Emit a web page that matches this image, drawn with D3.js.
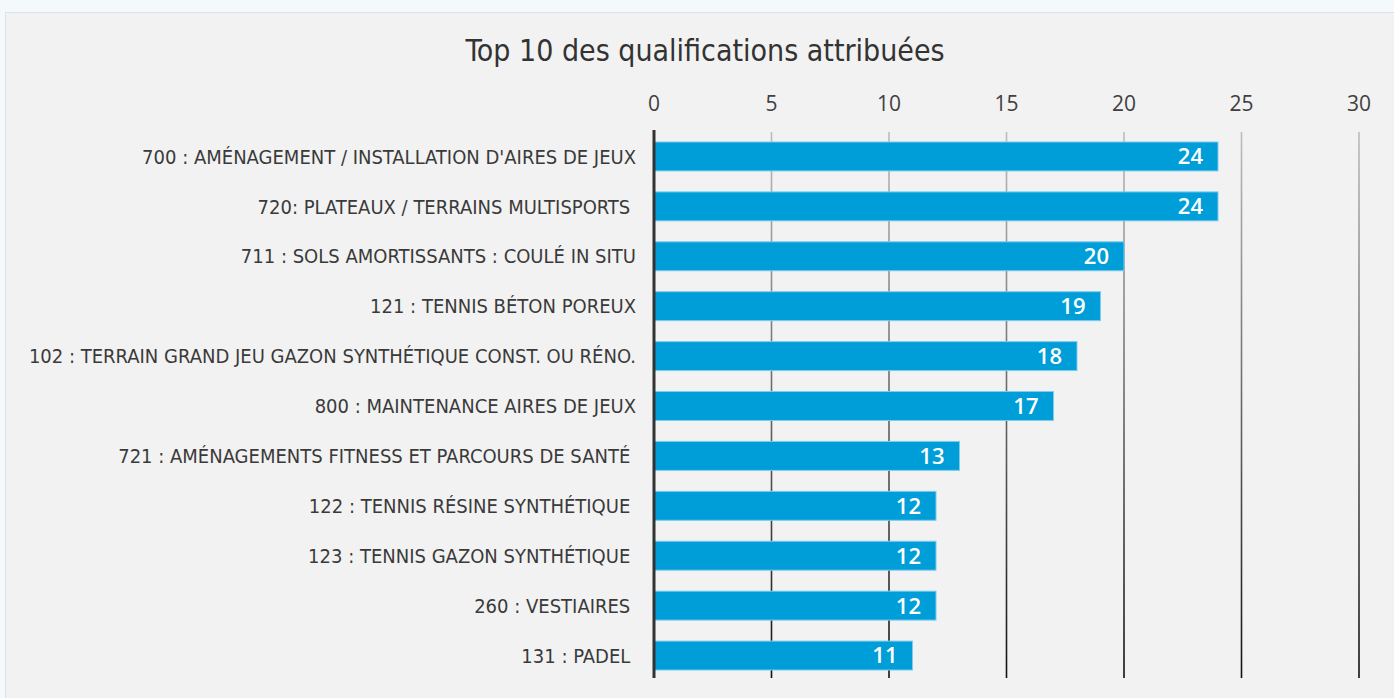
<!DOCTYPE html>
<html>
<head>
<meta charset="utf-8">
<script src="https://cdn.jsdelivr.net/npm/d3@7"></script>
<style>
  html, body { margin: 0; padding: 0; background: #f4f9fc; }
  svg { display: block; }
</style>
</head>
<body>
<script>
const categories = [
  "700 : AMÉNAGEMENT / INSTALLATION D'AIRES DE JEUX",
  "720: PLATEAUX / TERRAINS MULTISPORTS ",
  "711 : SOLS AMORTISSANTS : COULÉ IN SITU",
  "121 : TENNIS BÉTON POREUX",
  "102 : TERRAIN GRAND JEU GAZON SYNTHÉTIQUE CONST. OU RÉNO.",
  "800 : MAINTENANCE AIRES DE JEUX",
  "721 : AMÉNAGEMENTS FITNESS ET PARCOURS DE SANTÉ ",
  "122 : TENNIS RÉSINE SYNTHÉTIQUE ",
  "123 : TENNIS GAZON SYNTHÉTIQUE ",
  "260 : VESTIAIRES ",
  "131 : PADEL "
];
const counts = [24, 24, 20, 19, 18, 17, 13, 12, 12, 12, 11];
const tickValues = [0, 5, 10, 15, 20, 25, 30];
const title = "Top 10 des qualifications attribuées";

const width = 1394, height = 698;
const narrow = "'Liberation Sans Narrow', 'DejaVu Sans Condensed', 'Roboto Condensed', sans-serif";

const svg = d3.select("body").append("svg")
    .attr("width", width)
    .attr("height", height);

const defs = svg.append("defs");
const grad = defs.append("linearGradient")
    .attr("id", "gridGrad")
    .attr("gradientUnits", "userSpaceOnUse")
    .attr("x1", 0).attr("y1", 132)
    .attr("x2", 0).attr("y2", 678);
grad.append("stop").attr("offset", "0%").attr("stop-color", "#bdbdbd");
grad.append("stop").attr("offset", "100%").attr("stop-color", "#111");

// panel
svg.append("rect")
    .attr("x", 5.5).attr("y", 12.5)
    .attr("width", width - 5).attr("height", height - 12)
    .attr("fill", "#f2f2f2")
    .attr("stroke", "#dce2e5");

const x = d3.scaleLinear()
    .domain([0, 30])
    .range([654, 1359]);

const y = d3.scaleBand()
    .domain(categories)
    .range([132, 680])
    .paddingInner(0.42)
    .paddingOuter(0.2);

svg.append("text")
    .attr("x", 705)
    .attr("y", 61)
    .attr("text-anchor", "middle")
    .attr("font-family", narrow)
    .attr("font-size", 30)
    .attr("fill", "#333")
    .text(title);

// grid lines
svg.append("g")
  .selectAll("line")
  .data(tickValues.filter(d => d > 0))
  .join("line")
    .attr("x1", d => x(d)).attr("x2", d => x(d))
    .attr("y1", 132).attr("y2", 678)
    .attr("stroke", "url(#gridGrad)")
    .attr("stroke-width", 1.6);

// tick labels
svg.append("g")
  .selectAll("text")
  .data(tickValues)
  .join("text")
    .attr("x", d => x(d))
    .attr("y", 111)
    .attr("text-anchor", "middle")
    .attr("font-family", "'Open Sans', sans-serif")
    .attr("font-size", 21)
    .attr("fill", "#404040")
    .text(d => d);

// bars
const rows = svg.append("g")
  .selectAll("g")
  .data(categories.map((c, i) => ({c, v: counts[i]})))
  .join("g");

rows.append("rect")
    .attr("x", x(0))
    .attr("y", d => y(d.c))
    .attr("width", d => x(d.v) - x(0))
    .attr("height", y.bandwidth())
    .attr("fill", "#009ed8")
    .attr("stroke", "#7fcbee")
    .attr("stroke-width", 1);

rows.append("text")
    .attr("x", d => x(d.v) - 15)
    .attr("y", d => y(d.c) + y.bandwidth() / 2)
    .attr("dy", "0.36em")
    .attr("text-anchor", "end")
    .attr("font-family", "'Open Sans', sans-serif")
    .attr("font-weight", 600)
    .attr("font-size", 22)
    .attr("fill", "#fff")
    .text(d => d.v);

rows.append("text")
    .attr("x", 636)
    .attr("y", d => y(d.c) + y.bandwidth() / 2)
    .attr("dy", "0.36em")
    .attr("text-anchor", "end")
    .attr("font-family", narrow)
    .attr("font-size", 20)
    .attr("fill", "#3a3a3a")
    .attr("xml:space", "preserve")
    .style("white-space", "pre")
    .text(d => d.c);

// zero axis
svg.append("line")
    .attr("x1", x(0)).attr("x2", x(0))
    .attr("y1", 130).attr("y2", 678)
    .attr("stroke", "#333")
    .attr("stroke-width", 3);
</script>
</body>
</html>
